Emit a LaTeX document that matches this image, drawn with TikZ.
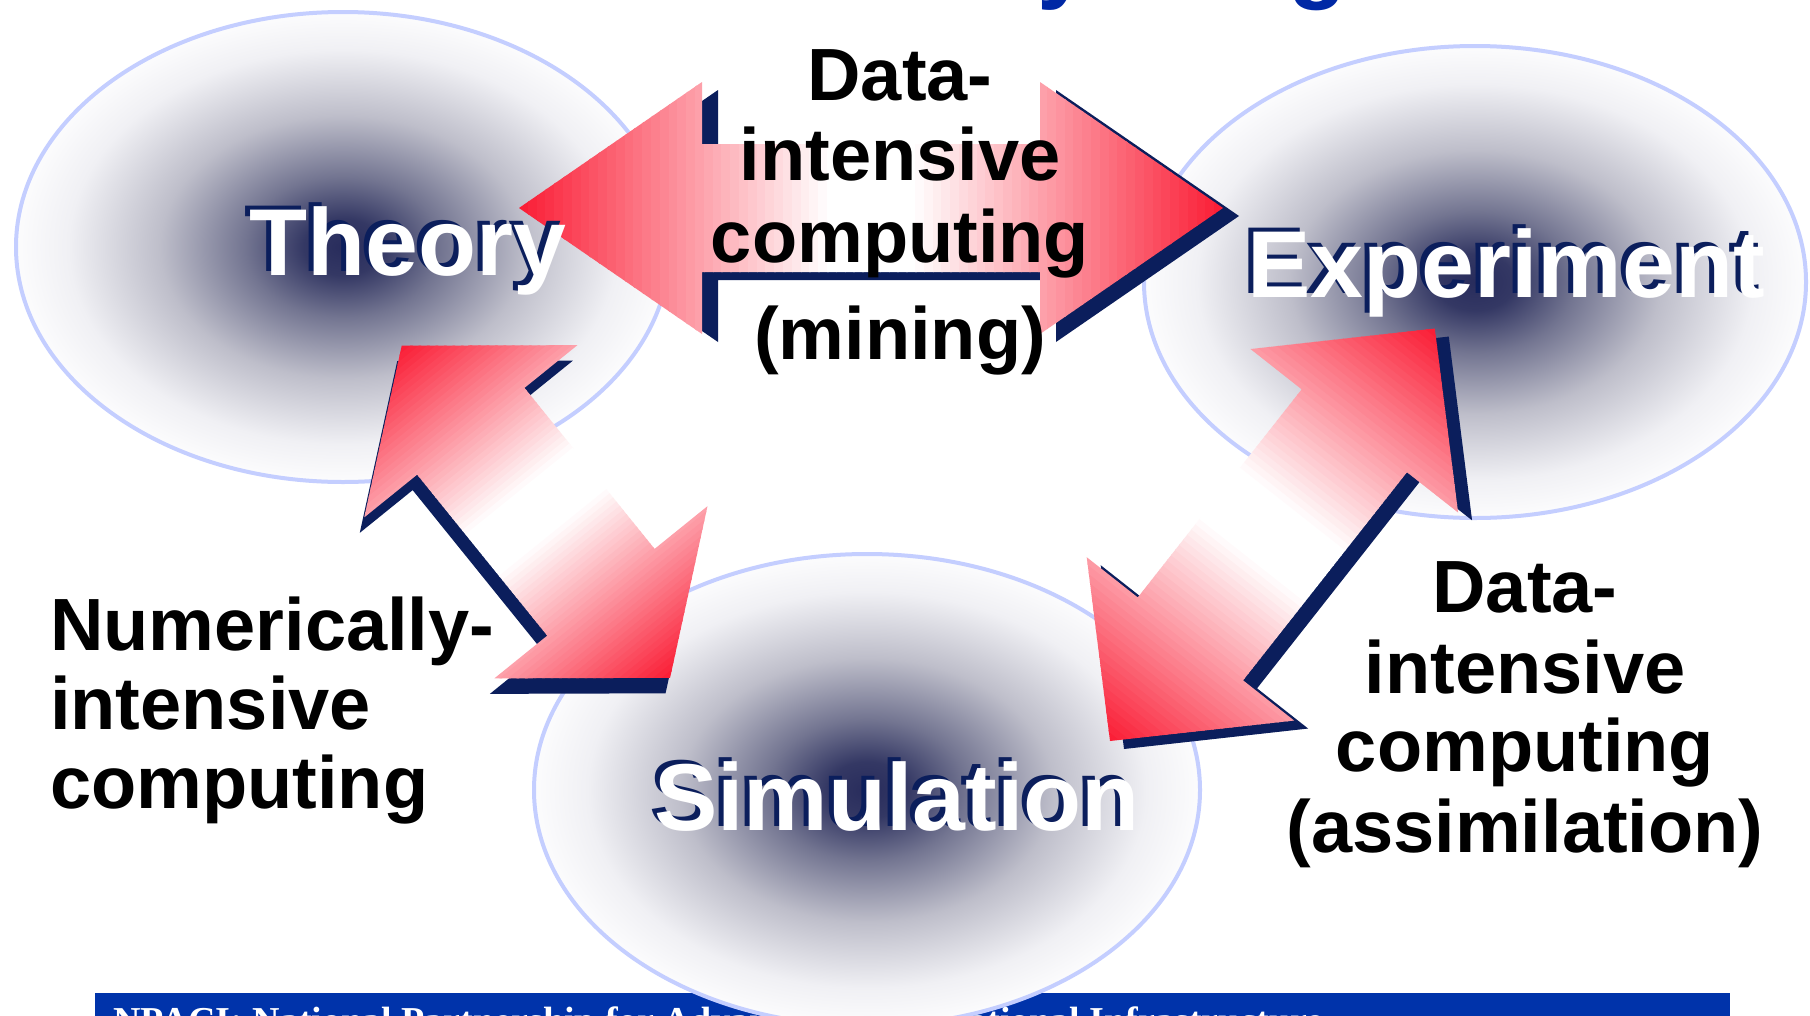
\documentclass[tikz,border=0pt]{standalone}
\usepackage{fontspec}
\setmainfont{Liberation Sans}
\newfontfamily\serifbar{Liberation Serif}
\definecolor{navy}{RGB}{11,30,92}
\definecolor{arrowred}{RGB}{250,28,52}
\definecolor{ellline}{RGB}{196,206,255}
\definecolor{barblue}{RGB}{0,51,170}
\definecolor{titleblue}{RGB}{0,40,165}
\definecolor{ecA}{RGB}{40,44,92}
\definecolor{ecB}{RGB}{52,56,100}
\definecolor{ecC}{RGB}{115,117,145}
\definecolor{ecD}{RGB}{190,190,202}
\definecolor{ecE}{RGB}{240,240,244}
\definecolor{ecF}{RGB}{252,252,253}
\pgfdeclareradialshading{ellsh}{\pgfpoint{0bp}{0bp}}{color(0bp)=(ecA); color(3bp)=(ecB); color(7.5bp)=(ecC); color(14bp)=(ecD); color(21bp)=(ecE); color(25bp)=(ecF); color(50bp)=(ecF)}
\tikzset{
  dblarrow/.style n args={4}{insert path={(0,0) -- (#2,#3) -- (#2,#4) -- (#1-#2,#4) -- (#1-#2,#3) -- (#1,0) -- (#1-#2,-#3) -- (#1-#2,-#4) -- (#2,-#4) -- (#2,-#3) -- cycle}},
  ellbox/.style={shading=ellsh},
  elledge/.style={draw=ellline, line width=4pt},
  bigw/.style={font=\bfseries\fontsize{95}{95}\selectfont, text=white, inner sep=0pt, anchor=base},
  bigs/.style={bigw, text=navy},
  lbl/.style={font=\bfseries\fontsize{74}{74}\selectfont, text=black, inner sep=0pt, anchor=base},
  lblw/.style={lbl, anchor=base west},
}
\newcommand\gradarrow[8]{%
  \begin{scope}[shift={(#8)}, shift={(#1,#2)}, rotate=#3]
    \fill[navy, dblarrow={#4}{#5}{#6}{#7}];
  \end{scope}
  \begin{scope}[shift={(#1,#2)}, rotate=#3]
    \clip[dblarrow={#4}{#5}{#6}{#7}];
    \foreach \i in {0,...,79} {
      \pgfmathsetmacro\arXa{#4/80*\i}
      \pgfmathsetmacro\arXb{#4/80*(\i+1)+1.5}
      \pgfmathsetmacro\arT{abs((\i+0.5)/80-0.5)*2}
      \pgfmathsetmacro\arP{max(0,(\arT-0.12)/0.88)*100}
      \fill[arrowred!\arP!white] (\arXa,-#6-2) rectangle (\arXb,#6+2);
    }
  \end{scope}
}
\begin{document}
\begin{tikzpicture}[x=1pt,y=-1pt]
\useasboundingbox (0,0) rectangle (1810,1015);
\clip (0,0) rectangle (1810,1015);
\fill[white] (0,0) rectangle (1810,1015);
% bottom bar
\fill[barblue] (95,993) rectangle (1730,1040);
\node[anchor=base west, inner sep=0pt, text=white, font=\serifbar\bfseries\fontsize{38}{38}\selectfont] (bartext) at (113,1033) {NPACI: National Partnership for Advanced Computational Infrastructure};
% ellipses
\shade[ellbox] (343,247) ellipse [x radius=327, y radius=235];
\draw[elledge] (343,247) ellipse [x radius=327, y radius=235];
\shade[ellbox] (1475,282) ellipse [x radius=331, y radius=236];
\draw[elledge] (1475,282) ellipse [x radius=331, y radius=236];
\shade[ellbox] (867,790) ellipse [x radius=333, y radius=236];
\draw[elledge] (867,790) ellipse [x radius=333, y radius=236];
% arrows
\gradarrow{519}{208}{0}{704}{183}{126}{64}{16,8}
\gradarrow{401.7}{345.7}{-51.06}{427}{110}{137}{69}{-4.5,15.5}
\gradarrow{1110}{741}{51.78}{525}{130}{132}{67}{14,8}
% big labels
\node[bigs] (theoryS) at (403,271) {Theory};
\node[bigw] (theory) at (408,275) {Theory};
\node[bigs] (experimentS) at (1501,293) {Experiment};
\node[bigw] (experiment) at (1506,297) {Experiment};
\node[bigs] (simulationS) at (892,826) {Simulation};
\node[bigw] (simulation) at (897,830) {Simulation};
% top label
\node[lbl] (t1) at (900,100) {Data-};
\node[lbl] (t2) at (900,180) {intensive};
\node[lbl] (t3) at (900,262) {computing};
\node[lbl] (t4) at (900,359) {(mining)};
% left label
\node[lblw] (l1) at (50,650) {Numerically-};
\node[lblw] (l2) at (50,729) {intensive};
\node[lblw] (l3) at (50,808) {computing};
% right label
\node[lbl] (r1) at (1525,612) {Data-};
\node[lbl] (r2) at (1525,693) {intensive};
\node[lbl] (r3) at (1525,771) {computing};
\node[lbl] (r4) at (1525,852) {(assimilation)};
% title fragments
\node[anchor=base, inner sep=0pt, text=titleblue, font=\bfseries\fontsize{96}{96}\selectfont] (ttly) at (1064,-10) {y};
\node[anchor=base, inner sep=0pt, text=titleblue, font=\bfseries\fontsize{96}{96}\selectfont] (ttlg) at (1318,-10) {g};
\end{tikzpicture}
\end{document}
